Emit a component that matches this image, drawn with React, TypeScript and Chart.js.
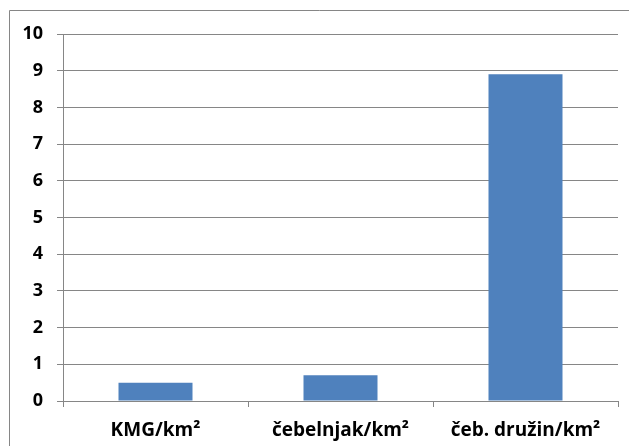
import React, { useEffect, useRef } from "react";
import { Chart, registerables } from "chart.js";

Chart.register(...registerables);

const categories = ["KMG/km²", "čebelnjak/km²", "čeb. družin/km²"];
const values = [0.5, 0.7, 8.9];
const yTicks = [0, 1, 2, 3, 4, 5, 6, 7, 8, 9, 10];

const FONT = "'Open Sans', 'Noto Sans', Arial, sans-serif";

const borderPlugin = {
  id: "outerBorder",
  beforeDraw(chart: any) {
    const ctx = chart.ctx;
    ctx.save();
    ctx.fillStyle = "#ffffff";
    ctx.fillRect(0, 0, chart.width, chart.height);
    ctx.strokeStyle = "#868686";
    ctx.lineWidth = 1;
    ctx.beginPath();
    ctx.moveTo(9.5, chart.height);
    ctx.lineTo(9.5, 10.5);
    ctx.lineTo(chart.width, 10.5);
    ctx.stroke();
    ctx.restore();
  },
};

export default function App() {
  const ref = useRef<HTMLCanvasElement | null>(null);
  useEffect(() => {
    if (!ref.current) return;
    const chart = new Chart(ref.current, {
      type: "bar",
      data: {
        labels: categories,
        datasets: [
          {
            data: values,
            backgroundColor: "#4F81BD",
            borderWidth: 0,
            barPercentage: 0.4,
            categoryPercentage: 1,
          },
        ],
      },
      plugins: [borderPlugin],
      options: {
        animation: false,
        responsive: false,
        maintainAspectRatio: false,
        devicePixelRatio: 1,
        layout: { padding: { top: 34, right: 11, left: 0, bottom: 0 } },
        plugins: { legend: { display: false }, tooltip: { enabled: false } },
        scales: {
          x: {
            offset: true,
            grid: {
              offset: true,
              drawOnChartArea: false,
              drawTicks: true,
              tickLength: 6,
              color: "#868686",
            },
            border: { color: "#868686", width: 1 },
            ticks: {
              color: "#000",
              font: { family: FONT, size: 19, weight: "bold" },
              padding: 12,
              maxRotation: 0,
            },
            afterFit(scale: any) {
              scale.height = 45;
            },
          },
          y: {
            min: 0,
            max: 10,
            afterBuildTicks(scale: any) {
              scale.ticks = yTicks.map((v) => ({ value: v }));
            },
            grid: {
              color: "#868686",
              tickLength: 6,
              drawTicks: true,
            },
            border: { color: "#868686", width: 1 },
            ticks: {
              color: "#000",
              font: { family: FONT, size: 18, weight: "bold" },
              padding: 14,
            },
            afterFit(scale: any) {
              scale.width = 63;
            },
          },
        },
      },
    } as any);
    return () => chart.destroy();
  }, []);
  return (
    <div style={{ position: "absolute", left: 0, top: 0, width: 629, height: 446 }}>
      <canvas ref={ref} width={629} height={446} style={{ display: "block" }} />
    </div>
  );
}
